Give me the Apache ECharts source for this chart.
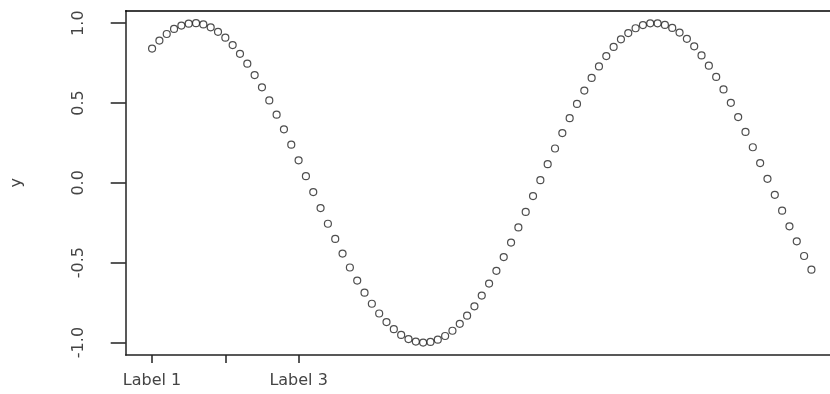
<!DOCTYPE html>
<html>
<head>
<meta charset="utf-8">
<script src="https://cdn.jsdelivr.net/npm/echarts@6/dist/echarts.min.js"></script>
<style>
  html, body { margin: 0; padding: 0; background: #fff; }
  #chart { width: 830px; height: 394px; }
</style>
</head>
<body>
<div id="chart"></div>
<script>
// x 取 1 到 10，步长 0.1
var xValues = [
  1.0, 1.1, 1.2, 1.3, 1.4, 1.5, 1.6, 1.7, 1.8, 1.9,
  2.0, 2.1, 2.2, 2.3, 2.4, 2.5, 2.6, 2.7, 2.8, 2.9,
  3.0, 3.1, 3.2, 3.3, 3.4, 3.5, 3.6, 3.7, 3.8, 3.9,
  4.0, 4.1, 4.2, 4.3, 4.4, 4.5, 4.6, 4.7, 4.8, 4.9,
  5.0, 5.1, 5.2, 5.3, 5.4, 5.5, 5.6, 5.7, 5.8, 5.9,
  6.0, 6.1, 6.2, 6.3, 6.4, 6.5, 6.6, 6.7, 6.8, 6.9,
  7.0, 7.1, 7.2, 7.3, 7.4, 7.5, 7.6, 7.7, 7.8, 7.9,
  8.0, 8.1, 8.2, 8.3, 8.4, 8.5, 8.6, 8.7, 8.8, 8.9,
  9.0, 9.1, 9.2, 9.3, 9.4, 9.5, 9.6, 9.7, 9.8, 9.9,
  10.0
]
var yValues = [
  0.841, 0.891, 0.932, 0.964, 0.985, 0.997, 1.000, 0.992, 0.974, 0.946,
  0.909, 0.863, 0.808, 0.746, 0.675, 0.598, 0.516, 0.427, 0.335, 0.239,
  0.141, 0.042, -0.058, -0.158, -0.256, -0.351, -0.443, -0.530, -0.612, -0.688,
  -0.757, -0.818, -0.872, -0.916, -0.952, -0.978, -0.994, -1.000, -0.996, -0.982,
  -0.959, -0.926, -0.883, -0.832, -0.773, -0.706, -0.631, -0.551, -0.465, -0.374,
  -0.279, -0.182, -0.083, 0.017, 0.117, 0.215, 0.312, 0.405, 0.494, 0.578,
  0.657, 0.729, 0.794, 0.851, 0.899, 0.938, 0.968, 0.988, 0.999, 0.999,
  0.989, 0.970, 0.941, 0.902, 0.855, 0.798, 0.734, 0.663, 0.585, 0.501,
  0.412, 0.319, 0.223, 0.124, 0.025, -0.075, -0.174, -0.272, -0.366, -0.458,
  -0.544
]
var xTicks = [1, 2, 3]
var xTickLabels = ['Label 1', 'Label 2', 'Label 3']
var xShownLabels = [1, 3]   // Label 2 重叠被省略
var yTicks = [-1, -0.5, 0, 0.5, 1]

var points = xValues.map(function (x, i) { return [x, yValues[i]] })

var chart = echarts.init(document.getElementById('chart'))
var lineColor = '#222'
var textColor = '#444'

chart.setOption({
  animation: false,
  backgroundColor: '#fff',
  grid: {
    left: 125.7,
    top: 10.7,
    right: -7.8,
    bottom: 39,
    outerBoundsMode: 'none'
  },
  xAxis: [{
    type: 'value',
    min: 0.64,
    max: 10.36,
    axisLine: { show: true, onZero: false, lineStyle: { color: lineColor, width: 1.5 } },
    axisTick: {
      show: true,
      customValues: xTicks,
      length: 8,
      lineStyle: { color: lineColor, width: 1.5 }
    },
    axisLabel: {
      customValues: xShownLabels,
      margin: 18,
      fontFamily: 'DejaVu Sans',
      fontSize: 16,
      color: textColor,
      formatter: function (v) {
        return xTickLabels[xTicks.indexOf(v)]
      }
    },
    splitLine: { show: false }
  }, {
    // 顶部边框
    type: 'value',
    position: 'top',
    min: 0.64,
    max: 10.36,
    axisLine: { show: true, onZero: false, lineStyle: { color: '#000', width: 1.5 } },
    axisTick: { show: false },
    axisLabel: { show: false },
    splitLine: { show: false }
  }],
  yAxis: [{
    type: 'value',
    min: -1.078,
    max: 1.078,
    name: 'y',
    nameLocation: 'middle',
    nameGap: 101,
    nameRotate: 90,
    nameTextStyle: { fontFamily: 'DejaVu Sans', fontSize: 16, color: textColor },
    axisLine: { show: true, onZero: false, lineStyle: { color: lineColor, width: 1.5 } },
    axisTick: {
      show: true,
      customValues: yTicks,
      length: 15,
      lineStyle: { color: lineColor, width: 1.5 }
    },
    axisLabel: {
      customValues: yTicks,
      rotate: 90,
      margin: 39,
      fontFamily: 'DejaVu Sans',
      fontSize: 16,
      color: textColor,
      formatter: function (v) { return v.toFixed(1) }
    },
    splitLine: { show: false }
  }],
  series: [{
    type: 'scatter',
    data: points,
    symbol: 'circle',
    symbolSize: 7,
    itemStyle: {
      color: 'rgba(0,0,0,0)',
      borderColor: '#222',
      borderWidth: 1.2
    }
  }]
})
</script>
</body>
</html>
